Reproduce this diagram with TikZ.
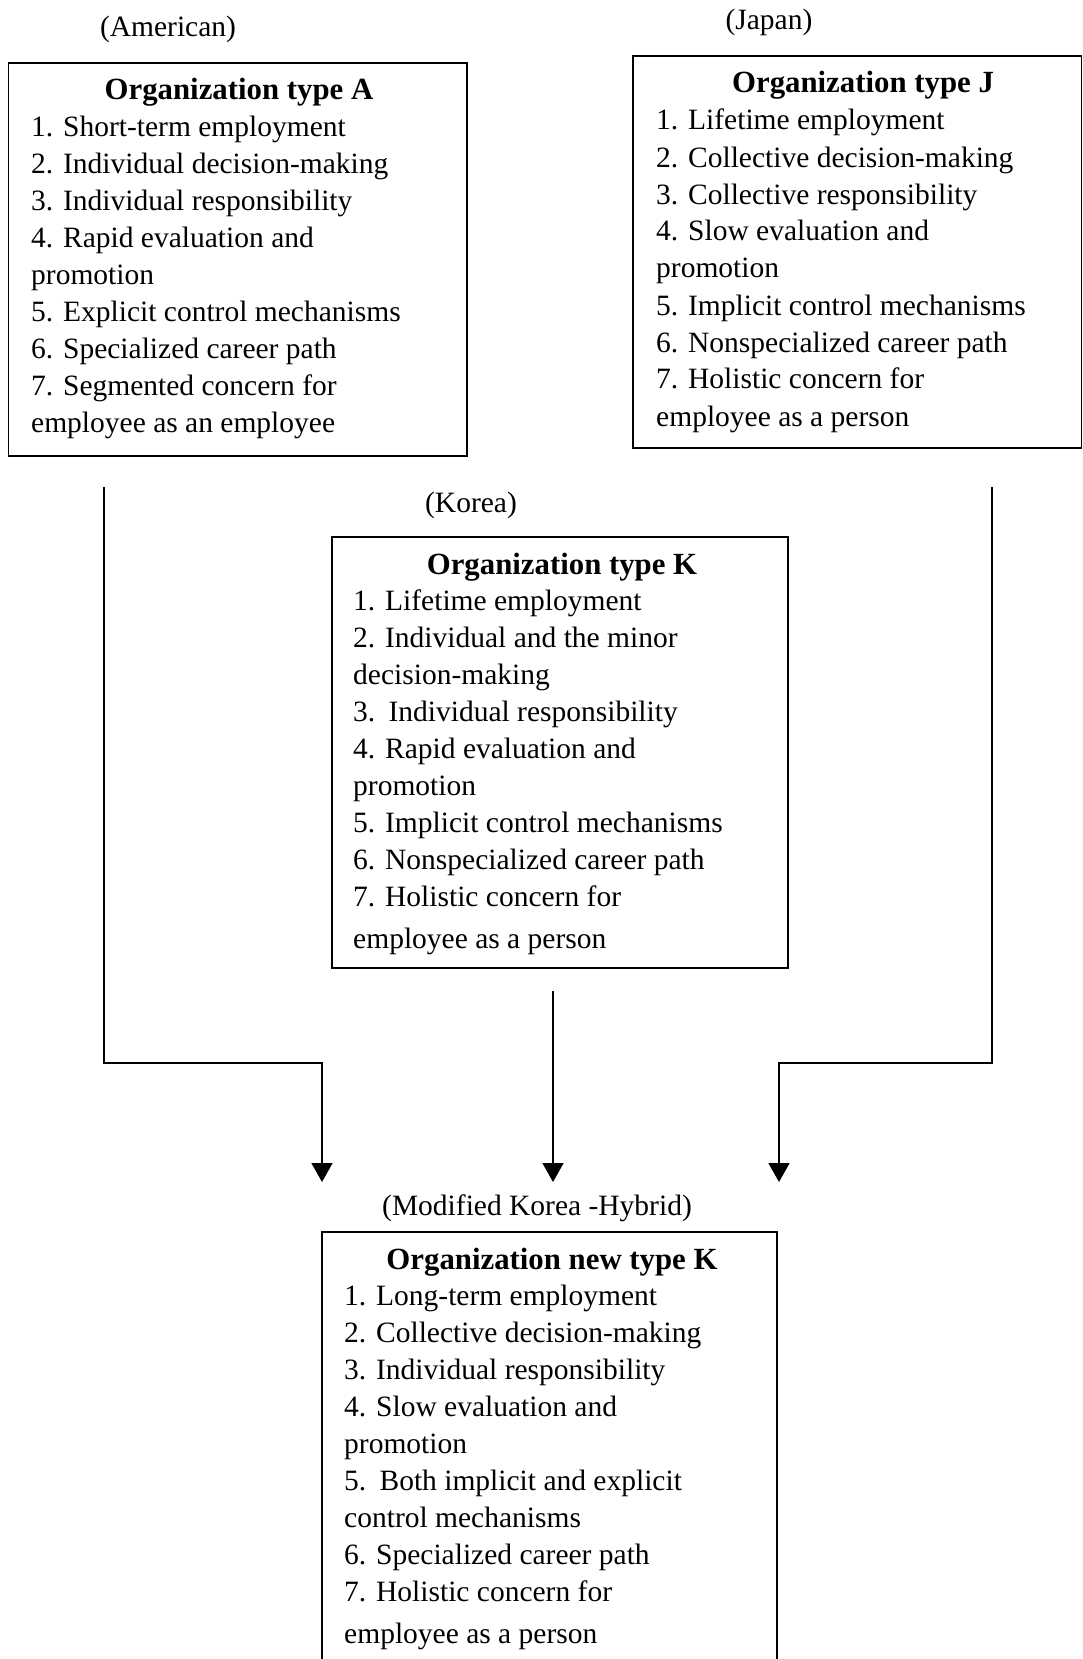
\documentclass[tikz,border=0pt]{standalone}
\usepackage{fontspec}
\setmainfont{Liberation Serif}
\usetikzlibrary{arrows.meta}

\tikzset{
  panel/.style={draw, line width=1.6pt, rectangle, inner sep=0pt, anchor=north west},
  heading/.style={font=\fontsize{30.8}{37}\selectfont\bfseries, anchor=base, inner sep=0pt},
  caption/.style={anchor=base, inner sep=0pt},
  body/.style={anchor=base west, inner sep=0pt},
  feed/.style={line width=1.6pt, -{Triangle[width=21pt,length=19pt]}}
}

\begin{document}
\begin{tikzpicture}[x=1pt, y=-1pt, font=\fontsize{29.5}{37}\selectfont]
  \useasboundingbox (0,0) rectangle (1082,1659);
  \clip (0,0) rectangle (1082,1659);

  % ---- American model ----
  \node[caption] (capA) at (168,37) {(American)};
  \node[panel, minimum width=458.5pt, minimum height=393pt] (boxA) at (7.5,62) {};
  \node[heading] (titA) at (239,100) {Organization type A};
  \node[body] (txtA) at (31,136) {\vtop{%
    \hbox{1. Short-term employment}
    \hbox{2. Individual decision-making}
    \hbox{3. Individual responsibility}
    \hbox{4. Rapid evaluation and}
    \hbox{promotion}
    \hbox{5. Explicit control mechanisms}
    \hbox{6. Specialized career path}
    \hbox{7. Segmented concern for}
    \hbox{employee as an employee}}};

  % ---- Japanese model ----
  \node[caption] (capJ) at (769,30) {(Japan)};
  \node[panel, minimum width=448.5pt, minimum height=392pt] (boxJ) at (632,55) {};
  \node[heading] (titJ) at (863,93) {Organization type J};
  \node[body] (txtJ) at (656,130) {\vtop{%
    \hbox{1. Lifetime employment}
    \hbox{2. Collective decision-making}
    \hbox{3. Collective responsibility}
    \hbox{4. Slow evaluation and}
    \hbox{promotion}
    \hbox{5. Implicit control mechanisms}
    \hbox{6. Nonspecialized career path}
    \hbox{7. Holistic concern for}
    \hbox{employee as a person}}};

  % ---- Korean model ----
  \node[caption] (capK) at (471,512) {(Korea)};
  \node[panel, minimum width=456pt, minimum height=431pt] (boxK) at (331,536) {};
  \node[heading] (titK) at (562,574) {Organization type K};
  \node[body] (txtK) at (353,610) {\vtop{%
    \hbox{1. Lifetime employment}
    \hbox{2. Individual and the minor}
    \hbox{decision-making}
    \hbox{3.\kern0.2em\ Individual responsibility}
    \hbox{4. Rapid evaluation and}
    \hbox{promotion}
    \hbox{5. Implicit control mechanisms}
    \hbox{6. Nonspecialized career path}
    \hbox{7. Holistic concern for}
    \vskip5pt
    \hbox{employee as a person}}};

  % ---- Hybrid model ----
  \node[caption] (capN) at (537,1215) {(Modified Korea -Hybrid)};
  \node[panel, minimum width=455pt, minimum height=470pt] (boxN) at (321,1231) {};
  \node[heading] (titN) at (552,1269) {Organization new type K};
  \node[body] (txtN) at (344,1305) {\vtop{%
    \hbox{1. Long-term employment}
    \hbox{2. Collective decision-making}
    \hbox{3. Individual responsibility}
    \hbox{4. Slow evaluation and}
    \hbox{promotion}
    \hbox{5.\kern0.2em\ Both implicit and explicit}
    \hbox{control mechanisms}
    \hbox{6. Specialized career path}
    \hbox{7. Holistic concern for}
    \vskip5pt
    \hbox{employee as a person}}};

  % ---- connectors ----
  \coordinate (aTop) at (104,487);
  \coordinate (aBend) at (104,1063);
  \coordinate (aEnd) at (322,1182);
  \coordinate (kTop) at (553,991);
  \coordinate (kEnd) at (553,1182);
  \coordinate (jTop) at (992,487);
  \coordinate (jBend) at (992,1063);
  \coordinate (jEnd) at (779,1182);

  \draw[feed] (aTop) -- (aBend) -- (aBend -| aEnd) -- (aEnd);
  \draw[feed] (kTop) -- (kEnd);
  \draw[feed] (jTop) -- (jBend) -- (jBend -| jEnd) -- (jEnd);
\end{tikzpicture}
\end{document}
